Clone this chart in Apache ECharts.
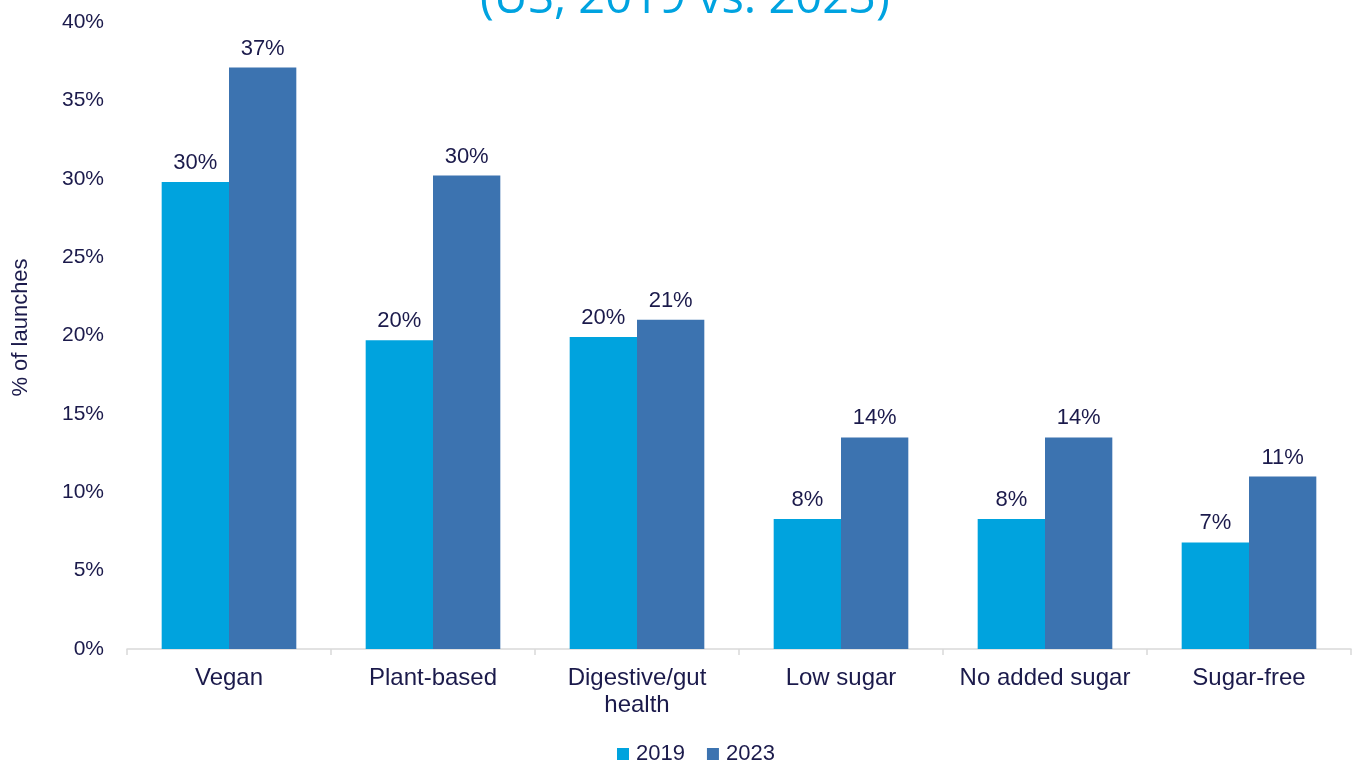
<!DOCTYPE html>
<html>
<head>
<meta charset="utf-8">
<style>
  html, body { margin: 0; padding: 0; background: #ffffff; }
  #chart { width: 1352px; height: 765px; }
</style>
<script src="https://cdn.jsdelivr.net/npm/echarts@6/dist/echarts.min.js"></script>
</head>
<body>
<div id="chart"></div>
<script>
// Claim categories along the x axis
const categories = ['Vegan', 'Plant-based', 'Digestive/gut\nhealth', 'Low sugar', 'No added sugar', 'Sugar-free'];
// Share of launches carrying each claim (%)
const launches2019 = [29.8, 19.7, 19.9, 8.3, 8.3, 6.8];
const launches2023 = [37.1, 30.2, 21.0, 13.5, 13.5, 11.0];
// Value axis ticks
const yMin = 0, yMax = 40, yStep = 5;

const ink = '#1b1a4b';
const labelFont = 'Liberation Sans, Arial, sans-serif';

const barLabel = {
  show: true,
  position: 'top',
  distance: 8,
  color: ink,
  fontFamily: labelFont,
  fontSize: 22,
  formatter: p => Math.round(p.value) + '%'
};

const chart = echarts.init(document.getElementById('chart'));
chart.setOption({
  animation: false,
  backgroundColor: '#ffffff',
  graphic: [{
    type: 'text',
    left: 480,
    top: -24,
    style: {
      text: '(US, 2019 vs. 2023)',
      fill: '#00a3e0',
      font: '47px "Open Sans", sans-serif'
    }
  }],
  grid: { left: 127, right: 1, top: 22, bottom: 116, containLabel: false },
  legend: {
    left: 612,
    bottom: -5,
    itemWidth: 12,
    itemHeight: 12,
    itemGap: 22,
    icon: 'rect',
    textStyle: { color: ink, fontFamily: labelFont, fontSize: 22, padding: [0, 0, 0, 2] },
    data: ['2019', '2023']
  },
  xAxis: {
    type: 'category',
    data: categories,
    axisLine: { lineStyle: { color: '#d9d9d9', width: 1.5 } },
    axisTick: { show: true, length: 6, lineStyle: { color: '#d9d9d9', width: 1.5 } },
    axisLabel: { color: ink, fontFamily: labelFont, fontSize: 24, margin: 16, lineHeight: 27, interval: 0 }
  },
  yAxis: {
    type: 'value',
    min: yMin,
    max: yMax,
    interval: yStep,
    name: '% of launches',
    nameLocation: 'middle',
    nameGap: 95,
    nameRotate: 90,
    nameTextStyle: { color: ink, fontFamily: labelFont, fontSize: 22, padding: [0, 0, 0, 16] },
    axisLine: { show: false },
    axisTick: { show: false },
    splitLine: { show: false },
    axisLabel: { color: ink, fontFamily: labelFont, fontSize: 21, margin: 23, formatter: '{value}%' }
  },
  series: [
    {
      name: '2019',
      type: 'bar',
      data: launches2019,
      barGap: '0%',
      barCategoryGap: '34%',
      itemStyle: { color: '#00a3de' },
      label: barLabel
    },
    {
      name: '2023',
      type: 'bar',
      data: launches2023,
      itemStyle: { color: '#3c73b0' },
      label: barLabel
    }
  ]
});
</script>
</body>
</html>
